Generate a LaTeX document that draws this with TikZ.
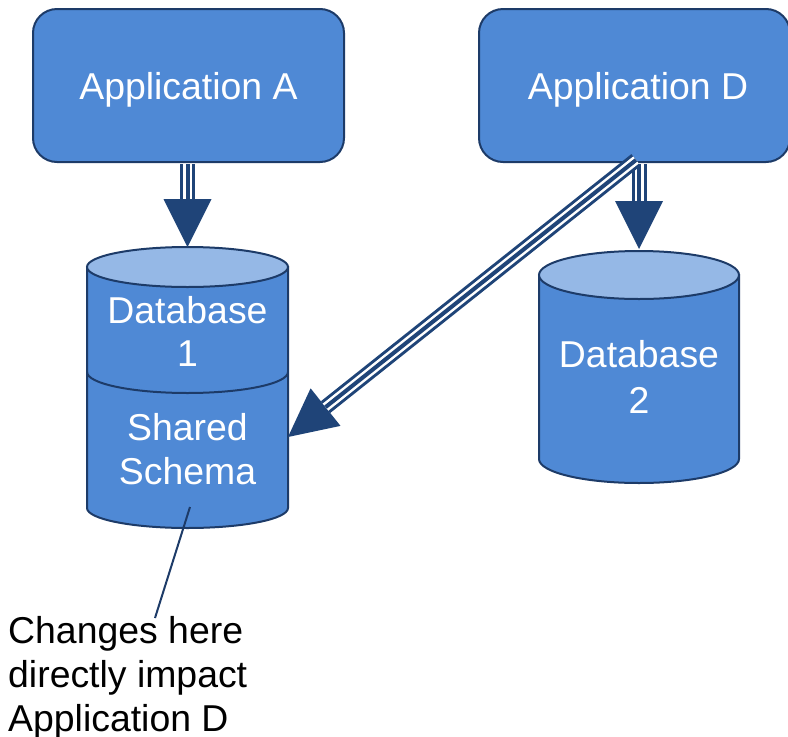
\documentclass[tikz,border=0pt]{standalone}
\usepackage{fontspec}
\setmainfont{Liberation Sans}
\usetikzlibrary{arrows.meta}

\definecolor{boxblue}{RGB}{79,137,213}
\definecolor{toplight}{RGB}{149,184,230}
\definecolor{navy}{RGB}{29,59,104}
\definecolor{arrownavy}{RGB}{31,68,120}

\tikzset{
  bigtext/.style={font=\fontsize{37.4}{44}\selectfont},
  appbox/.style={draw=navy, line width=2pt, fill=boxblue, rounded corners=24pt,
    text=white, bigtext, text height=28pt, text depth=0pt, inner sep=0pt,
    minimum width=311pt, minimum height=153pt},
  dbbody/.style={draw=navy, line width=2pt, fill=boxblue},
  dbtop/.style={draw=navy, line width=2pt, fill=toplight},
  dbline/.style={draw=navy, line width=2pt},
  dblabel/.style={text=white, bigtext, anchor=base, inner sep=0pt},
  notetext/.style={text=black, bigtext, anchor=base west, inner sep=0pt},
  noteline/.style={draw=navy, line width=2pt},
  outerline/.style={draw=arrownavy, line width=15pt,
    -{Triangle[width=48pt,length=48pt,line width=0pt]}},
  gapline/.style={draw=white, line width=9pt, shorten >=48pt},
  innerline/.style={draw=arrownavy, line width=4pt, shorten >=48pt},
}

% triple-line connector with a large filled head
\newcommand\triplelink[3][0pt]{%
  \path[outerline, shorten <=#1] (#2) -- (#3);
  \path[gapline, shorten <=#1] (#2) -- (#3);
  \path[innerline, shorten <=#1] (#2) -- (#3);
}

\begin{document}
\begin{tikzpicture}[x=1pt,y=-1pt]
\useasboundingbox (0,0) rectangle (788,737);

% ---- Database 1 (with the shared schema section) ----
\path[dbbody] (87,267) -- (87,508)
  arc[start angle=180,end angle=360,x radius=100.5pt,y radius=20pt]
  -- (288,267) -- cycle;
\path[dbline] (87,372) arc[start angle=180,end angle=360,x radius=100.5pt,y radius=21pt];
\path[dbtop] (187.5,267) ellipse[x radius=100.5pt,y radius=20pt];
\node[dblabel] (db1a) at (187.5,323) {Database};
\node[dblabel] (db1b) at (187.5,366) {1};
\node[dblabel] (db1c) at (187.5,440) {Shared};
\node[dblabel] (db1d) at (187.5,484) {Schema};

% ---- Database 2 ----
\path[dbbody] (539,275) -- (539,459)
  arc[start angle=180,end angle=360,x radius=100pt,y radius=24pt]
  -- (739,275) -- cycle;
\path[dbtop] (639,275) ellipse[x radius=100pt,y radius=24pt];
\node[dblabel] (db2a) at (639,367) {Database};
\node[dblabel] (db2b) at (639,413) {2};

% connector end points on the databases
\coordinate (db1top) at (187.5,247);
\coordinate (db1side) at (288,437);
\coordinate (db2top) at (639,249);

% ---- Applications ----
\node[appbox] (appA) at (188.5,85.5) {Application A};
\node[appbox] (appD) at (634.5,85.5) {\hspace*{7pt}Application D};

% vertical links, starting just below the box borders
\triplelink[1pt]{db1top |- appA.south}{db1top}
\triplelink[1pt]{db2top |- appD.south}{db2top}

% diagonal link from Application D into the shared schema
\coordinate (dsrc) at ([xshift=1.5pt,yshift=3pt]appD.south);
\triplelink{dsrc}{db1side}

% ---- annotation ----
\coordinate (noteA) at (190,507);
\coordinate (noteB) at (155,618);
\path[noteline] (noteA) -- (noteB);
\node[notetext] (n1) at (8,643) {Changes here};
\node[notetext] (n2) at (8,687) {directly impact};
\node[notetext] (n3) at (8,731) {Application D};
\end{tikzpicture}
\end{document}
